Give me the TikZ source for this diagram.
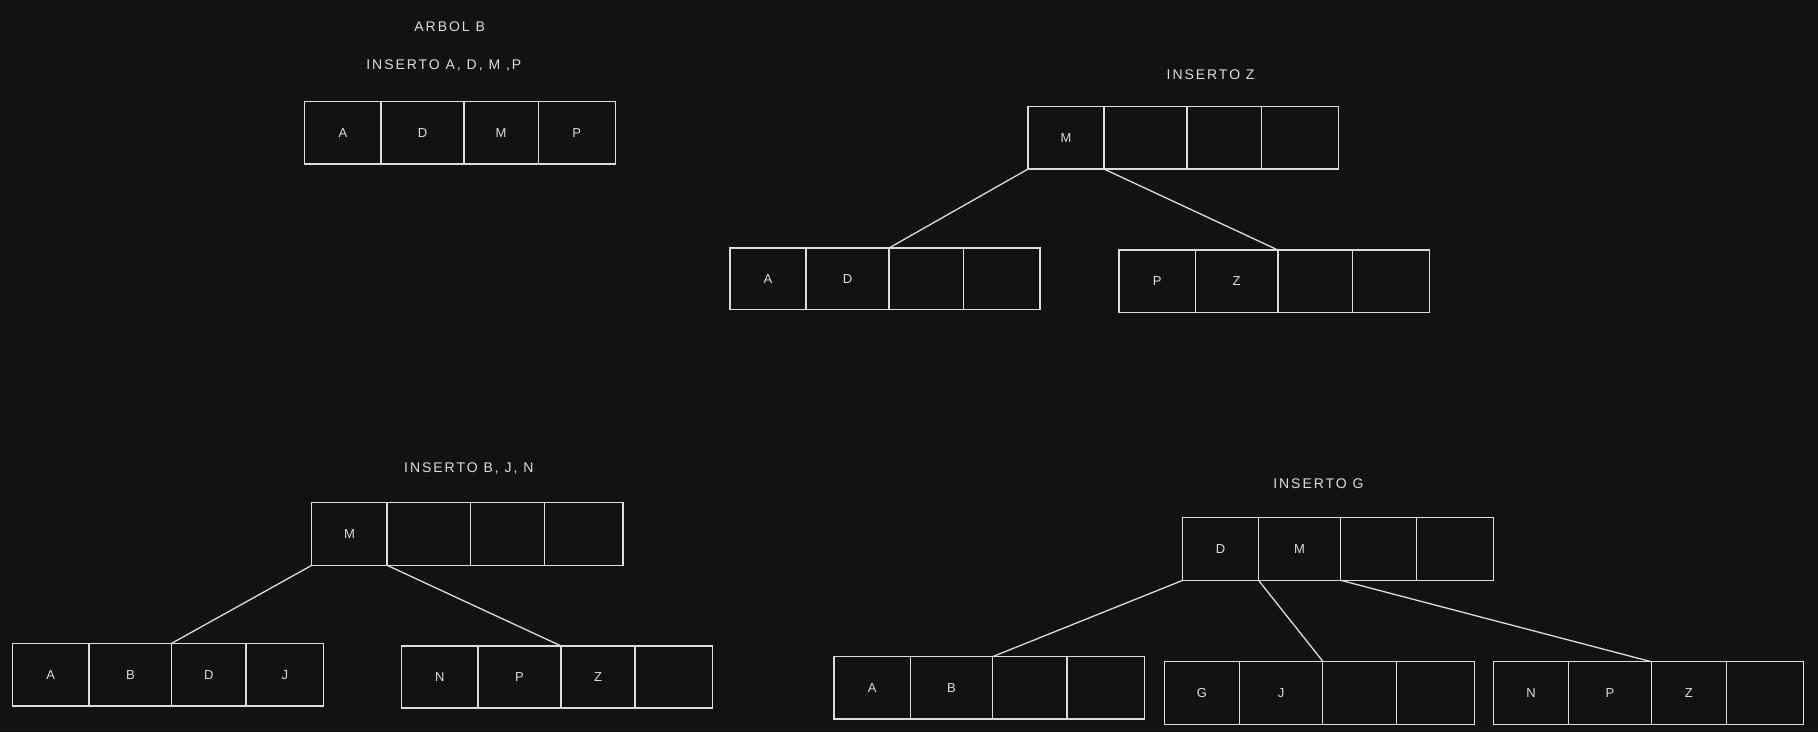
\documentclass[tikz,border=0pt]{standalone}
\usepackage{fontspec}
\setmainfont[LetterSpace=14]{Liberation Sans}
\definecolor{bg}{HTML}{121212}
\definecolor{ink}{HTML}{DCDCDC}
\tikzset{
  cellbox/.style={draw=ink, line width=1.3pt, inner sep=0pt, outer sep=0pt, text=ink, font=\fontsize{13}{15}\selectfont, anchor=north west},
  lbl/.style={text=ink, font=\fontsize{14}{16}\selectfont, inner sep=0pt},
  link/.style={draw=ink, line width=1.3pt}
}
\newcommand\cel[6]{\node[cellbox, minimum width={#3-#2}, minimum height={#5-#4}] (#1) at (#2,#4) {#6};}
\begin{document}
\begin{tikzpicture}[x=1pt,y=-1pt]
\fill[bg] (0,0) rectangle (1818,732);
\useasboundingbox (0,0) rectangle (1818,732);
% labels
\node[lbl] (t0) at (449.7,26.7) {ARBOL B};
\node[lbl] (t1) at (443.8,65.7) {INSERTO A, D, M ,P};
\node[lbl] (t2) at (1210.6,74.3) {INSERTO Z};
\node[lbl] (t3) at (468.8,468.3) {INSERTO B, J, N};
\node[lbl] (t4) at (1318.4,484) {INSERTO G};
% R0
\cel{a1}{304.7}{381}{101.7}{164}{A}
\cel{a2}{381}{464}{101.7}{164}{D}
\cel{a3}{464}{538.3}{101.7}{164}{M}
\cel{a4}{538.3}{615.3}{101.7}{164}{P}
% R1
\cel{b1}{1028.1}{1103.9}{106.7}{169}{M}
\cel{b2}{1103.9}{1187}{106.7}{169}{}
\cel{b3}{1187}{1261.8}{106.7}{169}{}
\cel{b4}{1261.8}{1338.5}{106.7}{169}{}
% R2
\cel{c1}{730.1}{805.9}{248}{309.7}{A}
\cel{c2}{805.9}{889}{248}{309.7}{D}
\cel{c3}{889}{963.4}{248}{309.7}{}
\cel{c4}{963.4}{1040}{248}{309.7}{}
% R3
\cel{d1}{1119}{1195.3}{250}{312.3}{P}
\cel{d2}{1195.3}{1277.9}{250}{312.3}{Z}
\cel{d3}{1277.9}{1352.3}{250}{312.3}{}
\cel{d4}{1352.3}{1429.4}{250}{312.3}{}
% R4
\cel{e1}{311.8}{387.1}{502.7}{565.3}{M}
\cel{e2}{387.1}{470.7}{502.7}{565.3}{}
\cel{e3}{470.7}{544.6}{502.7}{565.3}{}
\cel{e4}{544.6}{623.1}{502.7}{565.3}{}
% R5
\cel{f1}{12.4}{89.1}{643.3}{706}{A}
\cel{f2}{89.1}{171.7}{643.3}{706}{B}
\cel{f3}{171.7}{246.1}{643.3}{706}{D}
\cel{f4}{246.1}{323.7}{643.3}{706}{J}
% R6
\cel{g1}{401.8}{478}{646}{708}{N}
\cel{g2}{478}{561.1}{646}{708}{P}
\cel{g3}{561.1}{635}{646}{708}{Z}
\cel{g4}{635}{712.6}{646}{708}{}
% R7
\cel{h1}{1182.8}{1258.5}{517.3}{580.3}{D}
\cel{h2}{1258.5}{1340.7}{517.3}{580.3}{M}
\cel{h3}{1340.7}{1416.4}{517.3}{580.3}{}
\cel{h4}{1416.4}{1493.4}{517.3}{580.3}{}
% R8
\cel{i1}{834}{910.4}{656.7}{719}{A}
\cel{i2}{910.4}{992.5}{656.7}{719}{B}
\cel{i3}{992.5}{1067}{656.7}{719}{}
\cel{i4}{1067}{1144.6}{656.7}{719}{}
% R9
\cel{j1}{1164.3}{1239.5}{661.3}{724.3}{G}
\cel{j2}{1239.5}{1322.8}{661.3}{724.3}{J}
\cel{j3}{1322.8}{1396.7}{661.3}{724.3}{}
\cel{j4}{1396.7}{1474.3}{661.3}{724.3}{}
% R10
\cel{k1}{1493.4}{1568.5}{661.7}{724.3}{N}
\cel{k2}{1568.5}{1651.3}{661.7}{724.3}{P}
\cel{k3}{1651.3}{1726.4}{661.7}{724.3}{Z}
\cel{k4}{1726.4}{1803.4}{661.7}{724.3}{}
% connectors
\draw[link] (b1.south west) -- (c3.north west);
\draw[link] (b2.south west) -- (d3.north west);
\draw[link] (e1.south west) -- (f3.north west);
\draw[link] (e2.south west) -- (g3.north west);
\draw[link] (h1.south west) -- (i3.north west);
\draw[link] (h2.south west) -- (j3.north west);
\draw[link] (h3.south west) -- (k3.north west);
\end{tikzpicture}
\end{document}
